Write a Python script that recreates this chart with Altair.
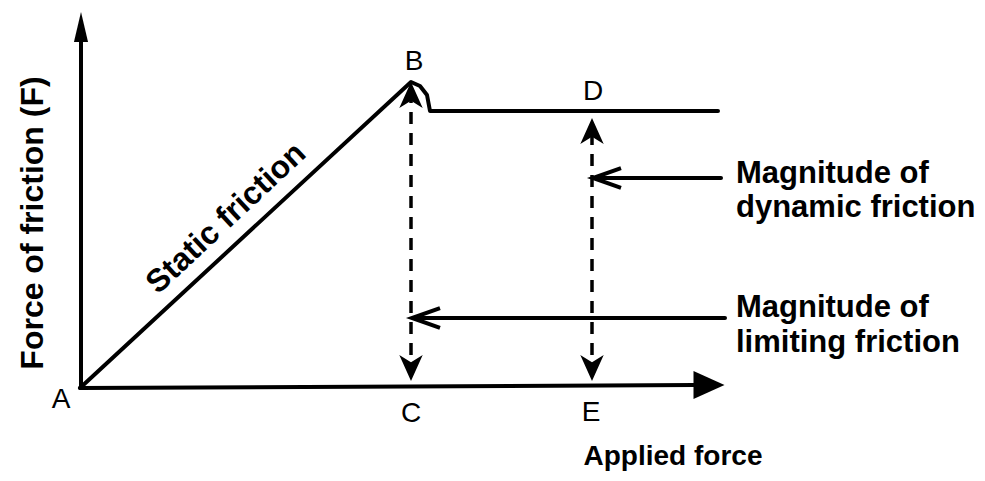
import altair as alt
import pandas as pd

# ---- diagram data (units: applied force on x, friction force on y; origin at A) ----
# solid curve: static friction rising to B, then constant dynamic friction
friction_x = [0, 331, 340, 347, 350, 638]
friction_y = [0, 306, 302, 293, 277, 277]
# axes
yaxis_x = [1, 1]
yaxis_y = [0, 350]
xaxis_x = [0, 615]
xaxis_y = [0, 3]
# dashed verticals B-C and D-E
dash_c_x = [331, 331]
dash_c_y = [12, 294]
dash_e_x = [512, 512]
dash_e_y = [12, 258]
# pointer lines from annotations
ptr_dyn_x = [515, 641]
ptr_dyn_y = [210, 210]
ptr_lim_x = [334, 645]
ptr_lim_y = [70, 70]

# arrowheads
axis_head_up = {"x": [1], "y": [361]}
axis_head_right = {"x": [629], "y": [3]}
notch_up = {"x": [331, 512], "y": [293, 257]}
notch_down = {"x": [331, 512], "y": [20, 20]}
chevron_left = {"x": [527, 346], "y": [210, 70]}

# point labels
pt_labels = ["A", "B", "C", "D", "E"]
pt_x = [-19, 334, 331, 513, 511]
pt_y = [-12, 326, -26, 296, -25]

# annotation texts
ann_text = ["Magnitude of", "dynamic friction", "Magnitude of", "limiting friction"]
ann_x = [656, 656, 656, 656]
ann_y = [205, 171, 71, 36]

xlabel_text = ["Applied force"]
xlabel_x = [593]
xlabel_y = [-77]

ylabel_text = ["Force of friction (F)"]
ylabel_x = [-47]
ylabel_y = [165]

static_text = ["Static friction"]
static_x = [146]
static_y = [170]

XS = alt.Scale(domain=[-72, 897])
YS = alt.Scale(domain=[-85, 380])


def poly(name, xs, ys):
    return pd.DataFrame({"seg": name, "x": xs, "y": ys, "o": list(range(len(xs)))})


solid_df = pd.concat([
    poly("friction", friction_x, friction_y),
    poly("yaxis", yaxis_x, yaxis_y),
    poly("xaxis", xaxis_x, xaxis_y),
    poly("pdyn", ptr_dyn_x, ptr_dyn_y),
    poly("plim", ptr_lim_x, ptr_lim_y),
])
dash_df = pd.concat([
    poly("c", dash_c_x, dash_c_y),
    poly("e", dash_e_x, dash_e_y),
])


def enc_xy():
    return dict(
        x=alt.X("x:Q", scale=XS, axis=None),
        y=alt.Y("y:Q", scale=YS, axis=None),
    )


solid = alt.Chart(solid_df).mark_line(color="black", strokeWidth=4, strokeCap="round", strokeJoin="round").encode(
    detail="seg:N", order="o:Q", **enc_xy()
)
dashed = alt.Chart(dash_df).mark_line(color="black", strokeWidth=3.5, strokeDash=[12, 9]).encode(
    detail="seg:N", order="o:Q", **enc_xy()
)


def heads(d, shape, size):
    return alt.Chart(pd.DataFrame(d)).mark_point(
        shape=shape, size=size, filled=True, color="black", opacity=1
    ).encode(**enc_xy())


h1 = heads(axis_head_up, "M0,-1L0.47,1L-0.47,1Z", 900)
h2 = heads(axis_head_right, "M1,0L-1,-0.9L-1,0.9Z", 961)
h3 = heads(notch_up, "M0,-1L0.9,1L0,0.45L-0.9,1Z", 676)
h4 = heads(notch_down, "M0,1L0.9,-1L0,-0.45L-0.9,-1Z", 676)
h5 = alt.Chart(pd.DataFrame(chevron_left)).mark_point(
    shape="M1,-0.7L-1,0L1,0.7", size=784, filled=False, color="black", opacity=1, strokeWidth=4
).encode(**enc_xy())

FONT = "Liberation Sans"

pts = alt.Chart(pd.DataFrame({"t": pt_labels, "x": pt_x, "y": pt_y})).mark_text(
    font=FONT, fontSize=28, color="black", align="center", baseline="middle"
).encode(text="t:N", **enc_xy())

ann = alt.Chart(pd.DataFrame({"t": ann_text, "x": ann_x, "y": ann_y})).mark_text(
    font=FONT, fontSize=31, fontWeight="bold", color="black", align="left", baseline="alphabetic"
).encode(text="t:N", **enc_xy())

xlab = alt.Chart(pd.DataFrame({"t": xlabel_text, "x": xlabel_x, "y": xlabel_y})).mark_text(
    font=FONT, fontSize=28, fontWeight="bold", color="black", align="center", baseline="alphabetic"
).encode(text="t:N", **enc_xy())

ylab = alt.Chart(pd.DataFrame({"t": ylabel_text, "x": ylabel_x, "y": ylabel_y})).mark_text(
    font=FONT, fontSize=32, fontWeight="bold", color="black", align="center", baseline="middle", angle=270
).encode(text="t:N", **enc_xy())

stat = alt.Chart(pd.DataFrame({"t": static_text, "x": static_x, "y": static_y})).mark_text(
    font=FONT, fontSize=32, fontWeight="bold", color="black", align="center", baseline="middle", angle=317
).encode(text="t:N", **enc_xy())

chart = alt.layer(solid, dashed, h1, h2, h3, h4, h5, pts, ann, xlab, ylab, stat).properties(
    width=969, height=465, padding=0, autosize="none", background="white"
).configure_view(stroke=None)

chart.save("out.html", embed_options={"renderer": "svg", "actions": False})
